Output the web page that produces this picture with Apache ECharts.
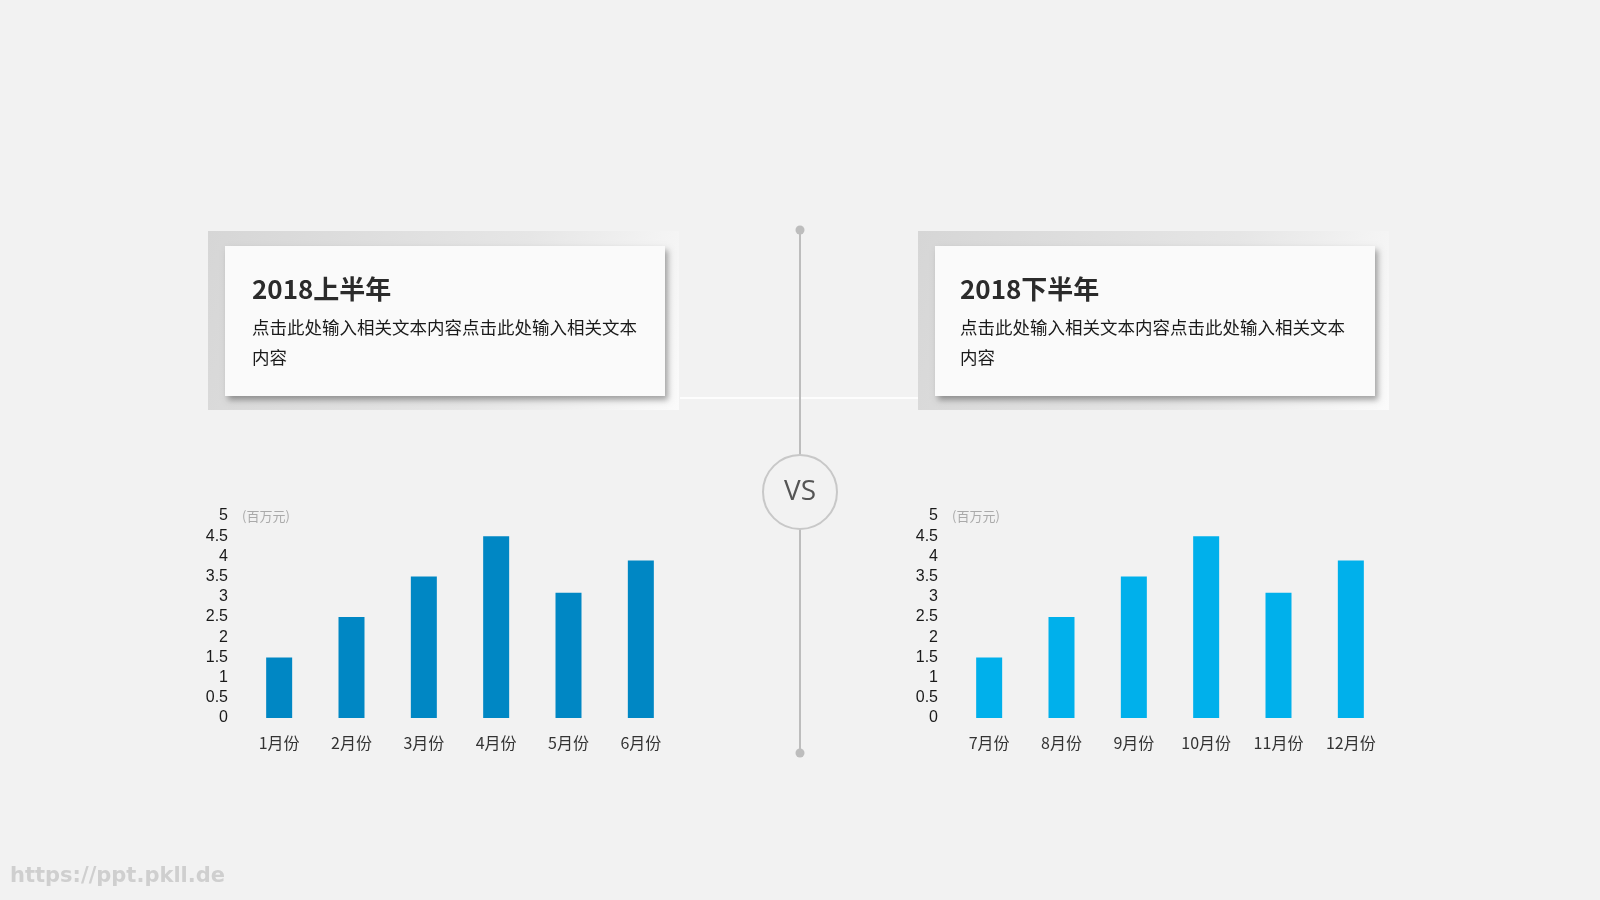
<!DOCTYPE html>
<html><head><meta charset="utf-8">
<script src="https://cdn.jsdelivr.net/npm/echarts@6/dist/echarts.min.js"></script>
<style>html,body{margin:0;padding:0;background:#f2f2f2;}#c{width:1600px;height:900px;}</style>
</head><body><div id="c"></div>
<script>
const monthsH1 = ['1月份','2月份','3月份','4月份','5月份','6月份'];
const monthsH2 = ['7月份','8月份','9月份','10月份','11月份','12月份'];
const valuesH1 = [1.5, 2.5, 3.5, 4.5, 3.1, 3.9];
const valuesH2 = [1.5, 2.5, 3.5, 4.5, 3.1, 3.9];
const titleH1 = '2018上半年';
const titleH2 = '2018下半年';
const bodyText = '点击此处输入相关文本内容点击此处输入相关文本\n内容';
const unitText = '(百万元)';

const chart = echarts.init(document.getElementById('c'), null, {renderer:'canvas'});
const FONT = '"Noto Sans CJK SC","Liberation Sans",Arial,sans-serif';

function card(x) {
  return [
    {type:'rect', shape:{x:x, y:231, width:471, height:179},
     style:{fill:new echarts.graphic.LinearGradient(0,0,1,1,[{offset:0,color:'#d6d6d6'},{offset:0.6,color:'#e6e6e6'},{offset:1,color:'#fbfbfb'}])}, z:1},
    {type:'rect', shape:{x:x+17, y:246, width:440, height:150},
     style:{fill:'#fafafa', shadowBlur:6, shadowOffsetX:3, shadowOffsetY:4, shadowColor:'rgba(0,0,0,0.35)'}, z:2}
  ];
}
function cardText(x, title) {
  return [
    {type:'text', x:x+44, y:289, style:{text:title, font:'bold 26px '+FONT, fill:'#2b2b2b', verticalAlign:'middle'}, z:3},
    {type:'text', x:x+44, y:312, style:{text:bodyText, font:'17.5px '+FONT, fill:'#1a1a1a', lineHeight:30}, z:3}
  ];
}

function axes(idx, cats) {
  return {
    x: {type:'category', gridIndex:idx, data:cats, axisLine:{show:false}, axisTick:{show:false},
        axisLabel:{fontSize:16, color:'#333', margin:17, fontFamily:FONT}},
    y: {type:'value', gridIndex:idx, min:0, max:5, interval:0.5, splitLine:{show:false},
        axisLine:{show:false}, axisTick:{show:false},
        axisLabel:{fontSize:16, color:'#1a1a1a', margin:15, fontFamily:'"Liberation Sans",Arial,sans-serif'}}
  };
}
const a1 = axes(0, monthsH1), a2 = axes(1, monthsH2);

chart.setOption({
  backgroundColor:'#f2f2f2',
  animation:false,
  grid:[
    {left:243, top:516, width:434, height:202, containLabel:false},
    {left:953, top:516, width:434, height:202, containLabel:false}
  ],
  xAxis:[a1.x, a2.x],
  yAxis:[a1.y, a2.y],
  series:[
    {type:'bar', xAxisIndex:0, yAxisIndex:0, data:valuesH1, barWidth:26, itemStyle:{color:'#0087c4'}},
    {type:'bar', xAxisIndex:1, yAxisIndex:1, data:valuesH2, barWidth:26, itemStyle:{color:'#00b0eb'}}
  ],
  graphic:[
    ...card(208), ...card(918),
    ...cardText(208, titleH1), ...cardText(916, titleH2),
    {type:'line', shape:{x1:680, y1:398, x2:918, y2:398}, style:{stroke:'rgba(255,255,255,0.8)', lineWidth:2}, z:1},
    {type:'line', shape:{x1:800, y1:230, x2:800, y2:753}, style:{stroke:'#bdbdbd', lineWidth:2}, z:4},
    {type:'circle', shape:{cx:800, cy:230, r:4.5}, style:{fill:'#bdbdbd'}, z:4},
    {type:'circle', shape:{cx:800, cy:753, r:4.5}, style:{fill:'#bdbdbd'}, z:4},
    {type:'circle', shape:{cx:800, cy:492, r:37}, style:{fill:'#f2f2f2', stroke:'#c8c8c8', lineWidth:2}, z:5},
    {type:'text', x:800, y:492, style:{text:'VS', font:'28px "Open Sans",'+FONT, fill:'#555', align:'center', verticalAlign:'middle'}, z:6},
    {type:'text', x:242, y:516, style:{text:unitText, font:'13px '+FONT, fill:'#aaa', verticalAlign:'middle'}, z:3},
    {type:'text', x:952, y:516, style:{text:unitText, font:'13px '+FONT, fill:'#aaa', verticalAlign:'middle'}, z:3},
    {type:'text', x:10, y:877, style:{text:'https://ppt.pkll.de', font:'bold 21px "DejaVu Sans",sans-serif', fill:'#cfcfcf', verticalAlign:'middle'}, z:3}
  ]
});
</script></body></html>
